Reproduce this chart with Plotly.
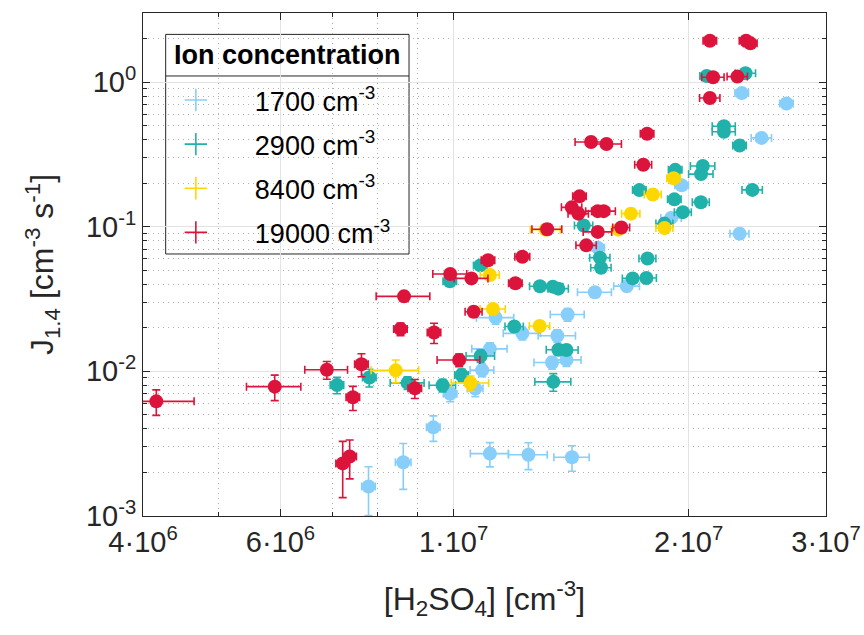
import numpy as np
import plotly.graph_objects as go

# ---------------- data ----------------
series_names = ["1700 cm<sup>-3</sup>", "2900 cm<sup>-3</sup>", "8400 cm<sup>-3</sup>", "19000 cm<sup>-3</sup>"]

h2so4_1700 = [2.34e7, 2.67e7, 2.48e7, 1.96e7, 1.90e7, 2.325e7, 1.53e7, 1.517e7, 1.667e7, 1.40e7,
              1.132e7, 1.225e7, 1.358e7, 1.113e7, 1.337e7, 1.395e7, 1.088e7, 1.066e7, 9.9e6, 9.42e6,
              1.113e7, 1.247e7, 1.418e7, 8.62e6, 7.78e6]
j_1700 = [0.838, 0.711, 0.411, 0.193, 0.115, 0.0895, 0.0716, 0.0352, 0.0388, 0.0247,
          0.0235, 0.0183, 0.0176, 0.0143, 0.0115, 0.0120, 0.0102, 0.0076, 0.0070, 0.0041,
          0.0027, 0.00265, 0.00255, 0.00235, 0.0016]
xerr_pct_1700 = [2, 2, 3, 2, 3, 2.8, 2, 5, 3.8, 5, 5.5, 5.5, 5.5, 5.2, 5.2, 4.4, 3.5, 2.3, 2, 2,
                 5.6, 5.7, 5.2, 2.3, 2]
yerr_pct_1700 = [5, 5, 6, 6, 6, 8, 8, 8, 8, 10, 10, 10, 10, 10, 10, 10, 10, 12, 12, 20,
                 19, 21, 20, 35, 37]

h2so4_2900 = [2.11e7, 2.366e7, 2.22e7, 2.22e7, 2.325e7, 2.086e7, 2.075e7, 1.923e7, 1.73e7, 2.414e7,
              1.918e7, 2.074e7, 1.967e7, 1.863e7, 1.468e7, 1.54e7, 1.545e7, 1.772e7, 1.082e7, 9.89e6,
              1.29e7, 1.34e7, 1.362e7, 1.696e7, 1.766e7, 1.196e7, 1.362e7, 1.395e7, 1.083e7, 1.024e7,
              1.342e7, 9.68e6, 8.73e6, 7.80e6, 7.09e6]
j_2900 = [1.10, 1.15, 0.495, 0.453, 0.364, 0.263, 0.231, 0.247, 0.179, 0.1796,
          0.1545, 0.1477, 0.126, 0.105, 0.102, 0.0611, 0.052, 0.0603, 0.054, 0.042,
          0.0387, 0.0385, 0.0373, 0.0439, 0.0442, 0.0204, 0.0141, 0.01406, 0.01278, 0.00943,
          0.00846, 0.00801, 0.00832, 0.00906, 0.00804]
xerr_pct_2900 = [2, 3, 3.4, 3.4, 2, 3.6, 3.6, 2, 2, 3, 2, 2.5, 2.5, 2.5, 2.7, 3, 3, 2.5, 2, 2,
                 3, 3, 3, 3, 3, 2.7, 3.5, 3.5, 4.2, 2, 5.3, 3.9, 5, 2, 2]
yerr_pct_2900 = [5, 5, 6, 6, 6, 6, 6, 6, 6, 6, 6, 6, 6, 6, 6, 7, 7, 7, 7, 7,
                 7, 7, 7, 7, 7, 8, 8, 8, 10, 10, 14, 10, 10, 14, 13]

h2so4_8400 = [1.914e7, 1.80e7, 1.687e7, 1.863e7, 1.312e7, 1.626e7, 1.113e7, 1.123e7, 1.289e7, 1.051e7, 8.43e6]
j_8400 = [0.216, 0.167, 0.123, 0.098, 0.0954, 0.0954, 0.0463, 0.027, 0.0206, 0.0083, 0.01016]
xerr_pct_8400 = [2, 2.5, 2.7, 2.5, 4.4, 2, 2.8, 3.7, 3, 5.5, 7]
yerr_pct_8400 = [6, 6, 6, 6, 6, 6, 7, 8, 8, 12, 18]

h2so4_19000 = [2.13e7, 2.37e7, 2.40e7, 2.15e7, 2.31e7, 2.13e7, 1.77e7, 1.50e7, 1.57e7, 1.75e7,
               1.45e7, 1.417e7, 1.445e7, 1.53e7, 1.557e7, 1.64e7, 1.53e7, 1.318e7, 1.479e7, 1.225e7,
               1.107e7, 9.9e6, 1.054e7, 1.20e7, 8.64e6, 1.061e7, 8.55e6, 9.44e6, 1.0165e7, 6.88e6,
               7.62e6, 5.90e6, 8.92e6, 7.43e6, 4.16e6, 7.36e6, 7.21e6]
j_19000 = [1.93, 1.93, 1.85, 1.08, 1.09, 0.776, 0.439, 0.385, 0.373, 0.268,
           0.162, 0.136, 0.123, 0.128, 0.128, 0.0987, 0.092, 0.096, 0.0743, 0.062,
           0.0586, 0.0471, 0.0439, 0.0406, 0.033, 0.0258, 0.0196, 0.01855, 0.01197, 0.01026,
           0.0112, 0.00784, 0.00763, 0.00662, 0.0062, 0.00258, 0.00231]
xerr_pct_19000 = [2, 2, 2, 3.3, 3, 3, 2, 4.6, 4.5, 2.5, 2, 3, 3, 3.5, 3.5, 2.5, 4.2, 4.4, 3, 2.2,
                  2, 5, 5, 2, 7.9, 2.5, 2, 2, 6.3, 6.3, 2, 8, 2, 2, 11.8, 2, 2]
yerr_pct_19000 = [5, 5, 5, 5, 5, 5, 6, 6, 6, 6, 6, 6, 6, 6, 6, 6, 6, 8, 6, 7,
                  7, 7, 7, 7, 8, 8, 10, 16, 10, 14, 18, 20, 15, 19, 20, 30, 42]

colors = ["#87CEFA", "#20B2AA", "#FFD700", "#DC143C"]

x_tickvals = [4e6, 6e6, 1e7, 2e7, 3e7]
x_ticktext = ["4·10<sup>6</sup>", "6·10<sup>6</sup>", "1·10<sup>7</sup>", "2·10<sup>7</sup>", "3·10<sup>7</sup>"]
x_minor = [5e6, 7e6, 8e6, 9e6]
y_tickvals = [1e-3, 1e-2, 1e-1, 1e0]
y_ticktext = ["10<sup>-3</sup>", "10<sup>-2</sup>", "10<sup>-1</sup>", "10<sup>0</sup>"]
y_minor = [k * 10.0 ** e for e in range(-3, 1) for k in range(2, 10) if k * 10.0 ** e < 3]

# ---------------- figure ----------------
FONT = "Liberation Sans, Arial, Helvetica, sans-serif"
TXT = "#262626"
DOT = "1px,4px"

fig = go.Figure()

datasets = [
    (h2so4_1700, j_1700, xerr_pct_1700, yerr_pct_1700),
    (h2so4_2900, j_2900, xerr_pct_2900, yerr_pct_2900),
    (h2so4_8400, j_8400, xerr_pct_8400, yerr_pct_8400),
    (h2so4_19000, j_19000, xerr_pct_19000, yerr_pct_19000),
]

for (xs, ys, xp, yp), c, name in zip(datasets, colors, series_names):
    xs = np.array(xs); ys = np.array(ys)
    fig.add_trace(go.Scatter(
        x=xs, y=ys, mode="markers", name=name, showlegend=False,
        marker=dict(color=c, size=14, line=dict(width=0)),
        error_x=dict(type="data", array=xs * np.array(xp) / 100, color=c, thickness=1.6, width=4),
        error_y=dict(type="data", array=ys * np.array(yp) / 100, color=c, thickness=1.6, width=4),
    ))

# legend entries (errorbar-like cross symbol)
for i, (c, name) in enumerate(zip(colors, series_names)):
    fig.add_trace(go.Scatter(
        x=[None], y=[None], mode="markers", name=name, legendgroup=f"g{i}",
        marker=dict(symbol="cross-thin-open", size=28, color=c, line=dict(color=c, width=1.6)),
    ))

axis_common = dict(
    type="log", tickmode="array",
    tickfont=dict(size=29, color=TXT, family=FONT),
    showgrid=True, gridcolor="#e3e3e3", gridwidth=1,
    ticks="inside", ticklen=7, tickcolor=TXT,
    showline=True, linecolor=TXT, linewidth=1, mirror="allticks", zeroline=False,
)

fig.update_xaxes(
    range=[np.log10(4e6), np.log10(3e7)],
    tickvals=x_tickvals, ticktext=x_ticktext,
    minor=dict(tickmode="array", tickvals=x_minor, showgrid=True, griddash=DOT,
               gridcolor="#b0b0b0", gridwidth=1, ticks="inside", ticklen=4, tickcolor=TXT),
    title=dict(text="[H<sub>2</sub>SO<sub>4</sub>] [cm<sup>-3</sup>]",
               font=dict(size=32, color=TXT, family=FONT), standoff=30),
    **axis_common,
)
fig.update_yaxes(
    range=[-3, np.log10(3)],
    tickvals=y_tickvals, ticktext=y_ticktext,
    minor=dict(tickmode="array", tickvals=y_minor, showgrid=True, griddash=DOT,
               gridcolor="#b0b0b0", gridwidth=1, ticks="inside", ticklen=4, tickcolor=TXT),
    title=dict(text="J<sub>1.4</sub> [cm<sup>-3</sup> s<sup>-1</sup>]",
               font=dict(size=32, color=TXT, family=FONT), standoff=22),
    **axis_common,
)

# legend frame and title separator (drawn as shapes in paper coords)
L, R, T, B, SEP = 0.0332, 0.3895, 0.9575, 0.5209, 0.8748
fig.add_shape(type="rect", xref="paper", yref="paper", x0=L, x1=R, y0=B, y1=T,
              line=dict(color=TXT, width=1), fillcolor="white", layer="between")
fig.add_shape(type="line", xref="paper", yref="paper", x0=L, x1=R, y0=SEP, y1=SEP,
              line=dict(color=TXT, width=1), layer="between")
fig.add_annotation(xref="paper", yref="paper", x=(L + R) / 2, y=(T + SEP) / 2,
                   text="<b>Ion concentration</b>", showarrow=False,
                   font=dict(size=27, color="black", family=FONT), xanchor="center", yanchor="middle")

fig.update_layout(
    width=864, height=635,
    margin=dict(l=143, r=38, t=13, b=119, autoexpand=False),
    paper_bgcolor="white", plot_bgcolor="white",
    font=dict(family=FONT, color=TXT),
    legend=dict(x=-0.009, y=0.8748, xanchor="left", yanchor="top",
                bgcolor="rgba(0,0,0,0)", borderwidth=0,
                font=dict(size=27, color="black", family=FONT),
                itemwidth=108, tracegroupgap=6, traceorder="grouped"),
)

fig.write_html("out.html")
